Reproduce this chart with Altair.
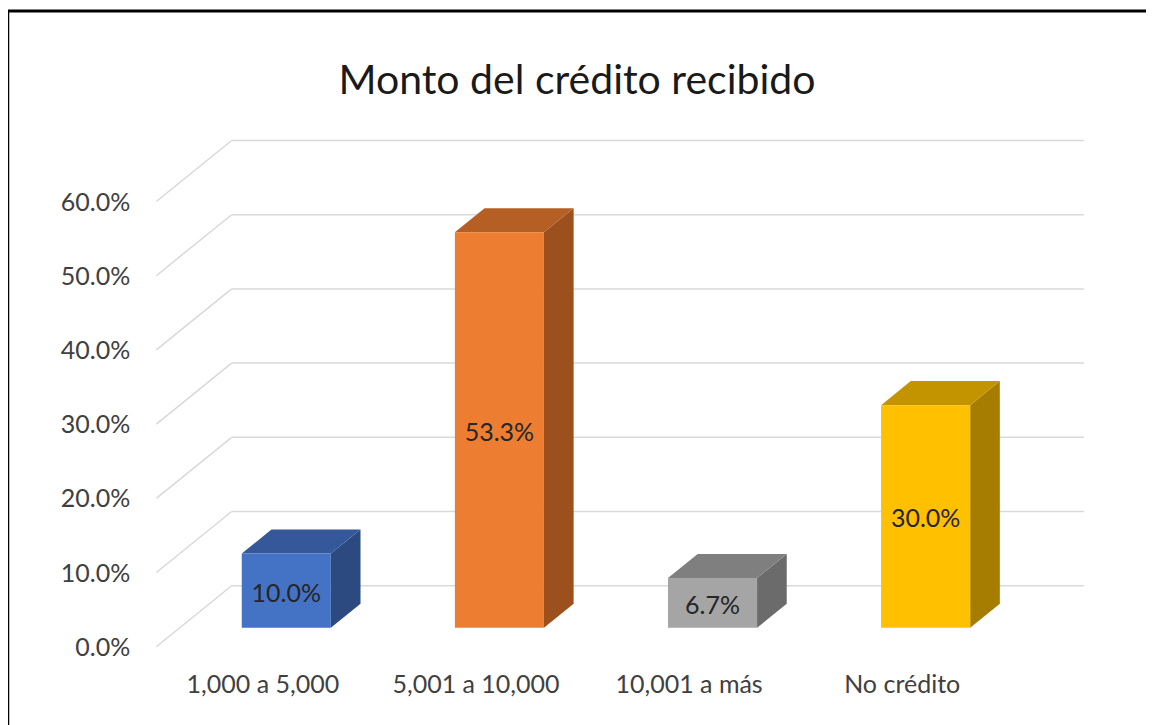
import altair as alt
import pandas as pd

# ---------------- data ----------------
categories = ["1,000 a 5,000", "5,001 a 10,000", "10,001 a más", "No crédito"]
values = [10.0, 53.3, 6.7, 30.0]
value_labels = ["10.0%", "53.3%", "6.7%", "30.0%"]
ticks = [0, 10, 20, 30, 40, 50, 60]
tick_labels = ["0.0%", "10.0%", "20.0%", "30.0%", "40.0%", "50.0%", "60.0%"]
title_text = "Monto del crédito recibido"

front_colors = ["#4472C4", "#ED7D31", "#A5A5A5", "#FFC000"]
top_colors = ["#34589A", "#B65F24", "#7F7F7F", "#C49400"]
side_colors = ["#2C4A80", "#9B501E", "#6B6B6B", "#A67D00"]

# ---------------- 3D projection constants (category-index / % units) ----------------
DX = 0.3534   # horizontal shift for full depth (floor front -> back wall)
DV = 8.22     # vertical shift for full depth, in % units
ZF = 0.311    # depth of bar front face
ZB = 0.705    # depth of bar back face
HW = 0.209    # half width of a bar
X_LEFT, X_RIGHT = -0.5, 3.5

W, H = 1138, 717
xs = alt.Scale(domain=[-1.196, 4.144], nice=False, zero=False)
ys = alt.Scale(domain=[-10.55, 86.08], nice=False, zero=False)
FONT = "Lato"

# gridlines
grid_back = pd.DataFrame({
    "x": [X_LEFT + DX] * len(ticks),
    "x2": [X_RIGHT + DX] * len(ticks),
    "y": [t + DV for t in ticks],
})
grid_side = pd.DataFrame({
    "x": [X_LEFT] * len(ticks),
    "x2": [X_LEFT + DX] * len(ticks),
    "y": [float(t) for t in ticks],
    "y2": [t + DV for t in ticks],
})
tick_df = pd.DataFrame({"x": [X_LEFT] * len(ticks), "y": ticks, "label": tick_labels})

idx = list(range(len(categories)))
front_df = pd.DataFrame({
    "cat": categories,
    "x": [i - HW + ZF * DX for i in idx],
    "x2": [i + HW + ZF * DX for i in idx],
    "y": [ZF * DV] * len(idx),
    "y2": [v + ZF * DV for v in values],
})

top_rows, side_rows = [], []
for i, c, v in zip(idx, categories, values):
    for z in [ZF, ZB]:
        top_rows.append({"cat": c, "y": v + z * DV,
                         "x": i - HW + z * DX, "x2": i + HW + z * DX})
        side_rows.append({"cat": c, "x": i + HW + z * DX,
                          "y": z * DV, "y2": v + z * DV})
top_df = pd.DataFrame(top_rows)
side_df = pd.DataFrame(side_rows)

val_df = pd.DataFrame({
    "x": [i + ZF * DX for i in idx],
    "y": [v / 2 + ZF * DV for v in values],
    "label": value_labels,
})
cat_df = pd.DataFrame({"x": idx, "y": [0.0] * len(idx), "cat": categories})

GRID = "#D9D9D9"

g_back = alt.Chart(grid_back).mark_rule(color=GRID, strokeWidth=1.5).encode(
    x=alt.X("x:Q", scale=xs, axis=None), x2="x2:Q", y=alt.Y("y:Q", scale=ys, axis=None))
g_side = alt.Chart(grid_side).mark_rule(color=GRID, strokeWidth=1.5).encode(
    x=alt.X("x:Q", scale=xs, axis=None), x2="x2:Q",
    y=alt.Y("y:Q", scale=ys, axis=None), y2="y2:Q")

side = alt.Chart(side_df).mark_area(orient="vertical").encode(
    x=alt.X("x:Q", scale=xs, axis=None),
    y=alt.Y("y:Q", scale=ys, axis=None, stack=False), y2="y2:Q",
    detail="cat:N",
    color=alt.Color("cat:N", scale=alt.Scale(domain=categories, range=side_colors), legend=None))
top = alt.Chart(top_df).mark_area(orient="horizontal").encode(
    y=alt.Y("y:Q", scale=ys, axis=None),
    x=alt.X("x:Q", scale=xs, axis=None, stack=False), x2="x2:Q",
    detail="cat:N",
    color=alt.Color("cat:N", scale=alt.Scale(domain=categories, range=top_colors), legend=None))
front = alt.Chart(front_df).mark_rect().encode(
    x=alt.X("x:Q", scale=xs, axis=None), x2="x2:Q",
    y=alt.Y("y:Q", scale=ys, axis=None), y2="y2:Q",
    color=alt.Color("cat:N", scale=alt.Scale(domain=categories, range=front_colors), legend=None))

vals = alt.Chart(val_df).mark_text(font=FONT, fontSize=25, color="#262626", baseline="middle", dy=3).encode(
    x=alt.X("x:Q", scale=xs, axis=None), y=alt.Y("y:Q", scale=ys, axis=None), text="label:N")
tick_txt = alt.Chart(tick_df).mark_text(font=FONT, fontSize=25, color="#404040", align="right",
                                        baseline="middle", dx=-26, dy=1).encode(
    x=alt.X("x:Q", scale=xs, axis=None), y=alt.Y("y:Q", scale=ys, axis=None), text="label:N")
cat_txt = alt.Chart(cat_df).mark_text(font=FONT, fontSize=25, color="#404040", baseline="middle", dy=38).encode(
    x=alt.X("x:Q", scale=xs, axis=None), y=alt.Y("y:Q", scale=ys, axis=None), text="cat:N")

# chart title, placed inside the framed area as in the reference
title_mark = alt.Chart(pd.DataFrame({"t": [title_text]})).mark_text(
    font=FONT, fontSize=41, color="#1a1a1a", align="center", baseline="alphabetic").encode(
    x=alt.value(W / 2), y=alt.value(86), text="t:N")

# outer frame of the chart: only its top and left edges are inside the picture
frame_left = alt.Chart(pd.DataFrame({"a": [0]})).mark_rule(color="black", strokeWidth=2.5).encode(
    x=alt.value(0), x2=alt.value(0), y=alt.value(2), y2=alt.value(H))
frame_top = alt.Chart(pd.DataFrame({"a": [0]})).mark_rule(color="black", strokeWidth=3).encode(
    x=alt.value(0), x2=alt.value(W), y=alt.value(3), y2=alt.value(3))

chart = alt.layer(
    g_back, g_side, side, top, front, vals, tick_txt, cat_txt, title_mark, frame_left, frame_top
).resolve_scale(color="independent").properties(
    width=W, height=H,
    autosize=alt.AutoSizeParams(type="none"),
    padding=0,
).configure_view(strokeWidth=0, stroke="transparent")

chart.save("out.html", embed_options={"renderer": "svg", "actions": False})
